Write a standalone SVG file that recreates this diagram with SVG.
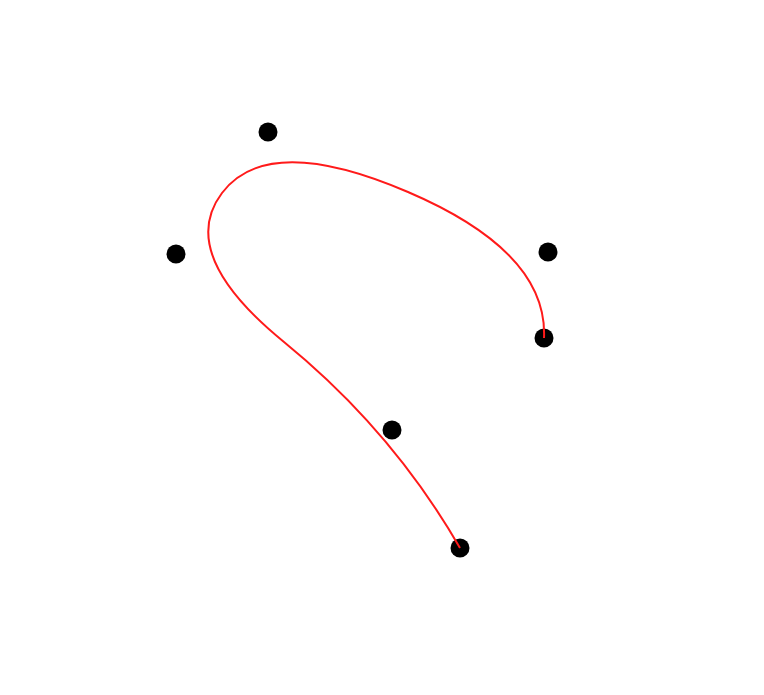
<svg xmlns="http://www.w3.org/2000/svg" width="764" height="695" viewBox="0 0 764 695">
<style>
.pt{fill:#000}
.curve{fill:none;stroke:#ff1a1a;stroke-width:2;stroke-linejoin:round}
</style>
<rect width="764" height="695" fill="#fff"/>
<g id="points">
<circle id="p0" class="pt" cx="460" cy="548" r="9.5"/>
<circle id="p1" class="pt" cx="392" cy="430" r="9.5"/>
<circle id="p2" class="pt" cx="176" cy="254" r="9.5"/>
<circle id="p3" class="pt" cx="268" cy="132" r="9.5"/>
<circle id="p4" class="pt" cx="548" cy="252" r="9.5"/>
<circle id="p5" class="pt" cx="544" cy="338" r="9.5"/>
</g>
<g id="connectors">
<path class="curve" d="M460,548 Q392,430 284,342 Q176,254 222,193 Q268,132 408,192 Q548,252 544,338"/>
</g>
</svg>
